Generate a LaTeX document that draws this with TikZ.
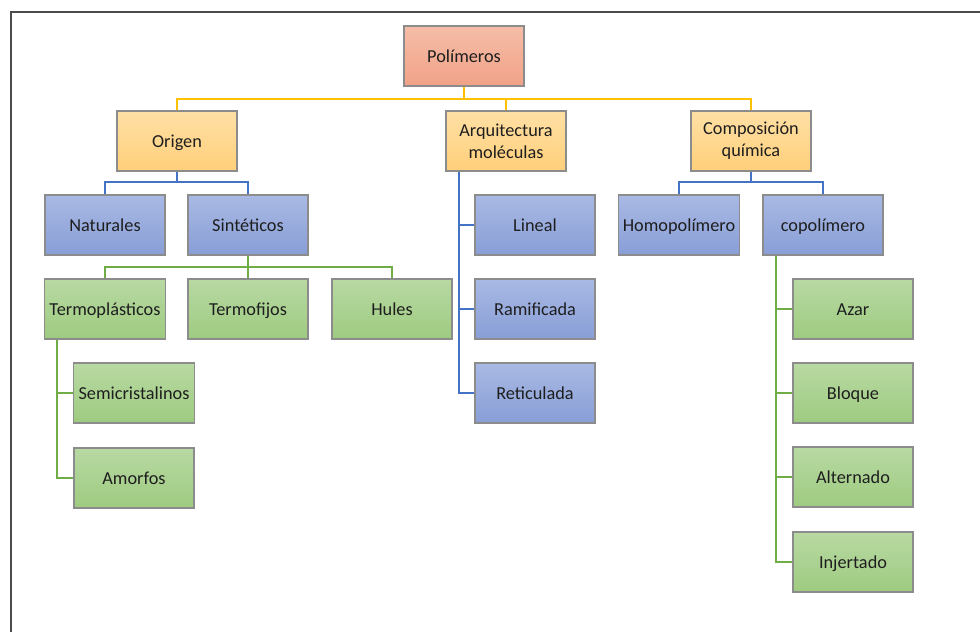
\documentclass[tikz,border=0pt]{standalone}
\usepackage{fontspec}
\setmainfont{Carlito}
\definecolor{salmonT}{RGB}{246,189,168}
\definecolor{salmonB}{RGB}{240,162,134}
\definecolor{yelT}{RGB}{255,224,165}
\definecolor{yelB}{RGB}{255,207,122}
\definecolor{bluT}{RGB}{168,185,228}
\definecolor{bluB}{RGB}{136,158,214}
\definecolor{grnT}{RGB}{184,217,163}
\definecolor{grnB}{RGB}{158,203,128}
\definecolor{boxline}{RGB}{140,140,140}
\definecolor{txt}{RGB}{30,30,30}
\definecolor{ylink}{RGB}{255,192,0}
\definecolor{blink}{RGB}{68,114,196}
\definecolor{glink}{RGB}{112,173,71}
\tikzset{
  box/.style={draw=boxline, line width=0.8pt, minimum width=3cm, minimum height=1.5cm,
    align=center, text=txt, text height=2ex, text depth=0.1ex,
    font=\fontsize{13}{15.5}\selectfont},
  twoline/.style={text height=, text depth=},
  rootbox/.style={box, top color=salmonT, bottom color=salmonB},
  ybox/.style={box, top color=yelT, bottom color=yelB},
  bbox/.style={box, top color=bluT, bottom color=bluB},
  gbox/.style={box, top color=grnT, bottom color=grnB},
  yline/.style={draw=ylink, line width=1.5pt},
  bline/.style={draw=blink, line width=1.5pt},
  gline/.style={draw=glink, line width=1.5pt}
}
\begin{document}
\begin{tikzpicture}[x=0.025cm, y=-0.025cm]
  \useasboundingbox (0,0) rectangle (980,632);
  \draw[line width=1pt, black!70] (980,12) -| (11,632);
  % buses
  \coordinate (ybus) at (0,99); \coordinate (obus) at (0,182); \coordinate (sbus) at (0,267);
  \coordinate (tx) at (57,0); \coordinate (ax) at (459,0); \coordinate (cx) at (776,0);
  % level 0 and 1
  \node[rootbox] (pol) at (464,56) {Polímeros};
  \node[ybox] (org) at (177,141) {Origen};
  \node[ybox, twoline] (arq) at (506,141) {Arquitectura\\moléculas};
  \node[ybox, twoline] (comp) at (751,141) {Composición\\química};
  % level 2
  \node[bbox] (nat) at (105,225) {Naturales}; \node[bbox] (sin) at (248,225) {Sintéticos};
  \node[bbox] (lin) at (535,225) {Lineal}; \node[bbox] (ram) at (535,309) {Ramificada};
  \node[bbox] (ret) at (535,393) {Reticulada};
  \node[bbox] (homo) at (679,225) {Homopolímero}; \node[bbox] (copo) at (823,225) {copolímero};
  % level 3
  \node[gbox] (tpl) at (105,309) {Termoplásticos}; \node[gbox] (tfj) at (248,309) {Termofijos};
  \node[gbox] (hul) at (392,309) {Hules};
  \node[gbox] (semi) at (134,393) {Semicristalinos}; \node[gbox] (amo) at (134,478) {Amorfos};
  \node[gbox] (aza) at (853,309) {Azar}; \node[gbox] (blq) at (853,393) {Bloque};
  \node[gbox] (alt) at (853,477) {Alternado}; \node[gbox] (inj) at (853,562) {Injertado};
  % connectors
  \draw[yline] (pol.south) -- (pol.south |- ybus) -| (org.north);
  \draw[yline] (pol.south |- ybus) -| (arq.north);
  \draw[yline] (pol.south |- ybus) -| (comp.north);
  \draw[bline] (org.south) -- (org.south |- obus) -| (nat.north);
  \draw[bline] (org.south |- obus) -| (sin.north);
  \draw[bline] (comp.south) -- (comp.south |- obus) -| (homo.north);
  \draw[bline] (comp.south |- obus) -| (copo.north);
  \draw[gline] (sin.south) -- (sin.south |- sbus) -| (tpl.north);
  \draw[gline] (sin.south |- sbus) -| (hul.north);
  \draw[gline] (sin.south |- sbus) -- (tfj.north);
  \draw[gline] (tpl.south -| tx) |- (amo.west); \draw[gline] (tx |- semi.west) -- (semi.west);
  \draw[bline] (arq.south -| ax) |- (ret.west); \draw[bline] (ax |- lin.west) -- (lin.west);
  \draw[bline] (ax |- ram.west) -- (ram.west);
  \draw[gline] (copo.south -| cx) |- (inj.west); \draw[gline] (cx |- aza.west) -- (aza.west);
  \draw[gline] (cx |- blq.west) -- (blq.west); \draw[gline] (cx |- alt.west) -- (alt.west);
\end{tikzpicture}
\end{document}
